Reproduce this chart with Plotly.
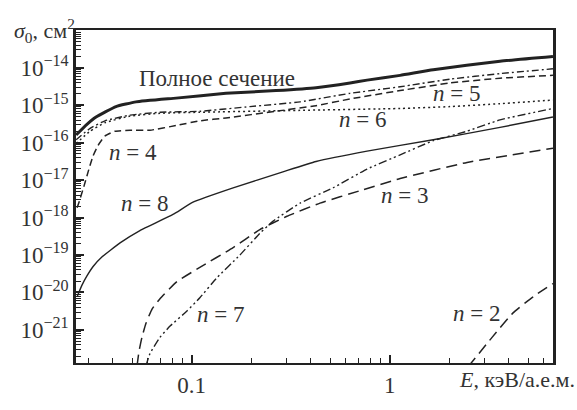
import plotly.graph_objects as go

# ---------------- data (E in keV/amu, sigma in cm^2) ----------------
E_total = [0.0261, 0.0295, 0.0329, 0.0415, 0.0524, 0.0834, 0.149, 0.267, 0.425, 0.631, 0.769, 1.13, 1.66, 3.61, 6.68]
S_total = [1.61e-16, 3.05e-16, 4.85e-16, 9.2e-16, 1.23e-15, 1.55e-15, 2.08e-15, 2.47e-15, 2.95e-15, 3.94e-15, 4.69e-15, 6.28e-15, 8.9e-15, 1.50e-14, 2.01e-14]

E_n5 = [0.0261, 0.0307, 0.0365, 0.0489, 0.0692, 0.110, 0.197, 0.353, 0.631, 1.13, 2.02, 3.61, 6.68]
S_n5 = [1.20e-16, 2.41e-16, 3.84e-16, 5.45e-16, 6.5e-16, 6.9e-16, 9.2e-16, 1.23e-15, 2.08e-15, 3.12e-15, 4.98e-15, 7.0e-15, 9.4e-15]

E_n6 = [0.0261, 0.0307, 0.0365, 0.0489, 0.0692, 0.110, 0.353, 1.13, 2.02, 3.61, 6.68]
S_n6 = [9.5e-17, 2.03e-16, 3.42e-16, 5.14e-16, 6.1e-16, 6.5e-16, 7.3e-16, 8.2e-16, 9.2e-16, 1.10e-15, 1.38e-15]

E_n4 = [0.0264, 0.0270, 0.0286, 0.0300, 0.0318, 0.0337, 0.0365, 0.0410, 0.0489, 0.0616, 0.0834, 0.110, 0.149, 0.267, 0.425, 0.631, 1.13, 2.02, 3.61, 6.68]
S_n4 = [1.82e-18, 2.58e-18, 6.9e-18, 1.66e-17, 4.47e-17, 8.5e-17, 1.51e-16, 2.03e-16, 2.15e-16, 2.15e-16, 2.87e-16, 3.84e-16, 4.58e-16, 6.9e-16, 9.75e-16, 1.47e-15, 2.47e-15, 3.94e-15, 5.27e-15, 6.28e-15]

E_n8 = [0.0264, 0.0279, 0.0296, 0.0318, 0.0352, 0.0435, 0.0548, 0.0805, 0.1016, 0.162, 0.289, 0.425, 0.769, 1.66, 3.61, 6.68]
S_n8 = [7.65e-21, 1.54e-20, 2.76e-20, 4.93e-20, 8.8e-20, 2.11e-19, 4.50e-19, 1.21e-18, 2.58e-18, 6.2e-18, 1.66e-17, 3.15e-17, 5.97e-17, 1.20e-16, 2.56e-16, 4.85e-16]

E_n7 = [0.0588, 0.0616, 0.0692, 0.0778, 0.0948, 0.110, 0.134, 0.175, 0.221, 0.258, 0.353, 0.517, 0.769, 1.13, 1.66, 2.46, 3.61, 6.68]
S_n7 = [1.10e-22, 2.33e-22, 6.3e-22, 1.26e-21, 3.2e-21, 7.2e-21, 2.45e-20, 9.9e-20, 3.78e-19, 8.05e-19, 2.43e-18, 6.2e-18, 1.98e-17, 4.73e-17, 1.13e-16, 2.03e-16, 4.07e-16, 8.2e-16]

E_n3 = [0.0530, 0.0542, 0.0561, 0.0588, 0.0631, 0.0692, 0.0843, 0.110, 0.162, 0.221, 0.303, 0.445, 0.708, 1.13, 2.46, 6.68]
S_n3 = [1.10e-22, 2.62e-22, 6.3e-22, 1.50e-21, 3.6e-21, 6.8e-21, 1.95e-20, 4.66e-20, 1.58e-19, 4.77e-19, 1.08e-18, 2.43e-18, 5.2e-18, 1.10e-17, 2.97e-17, 7.1e-17]

E_n2 = [2.49, 3.29, 4.20, 5.30, 6.68]
S_n2 = [1.03e-22, 6.3e-22, 2.85e-21, 7.65e-21, 1.73e-20]

x_ticks = [0.1, 1]
x_ticktext = ["0.1", "1"]
y_exps = [-21, -20, -19, -18, -17, -16, -15, -14]

# ---------------- figure ----------------
W, H = 577, 410
ML, MR, MT, MB = 76, 24, 30, 28
PW, PH = W - ML - MR, H - MT - MB
LC = "#222222"
TC = "#333333"
FONT = "Liberation Serif"
FS = 23

def px(xp):
    return (xp - ML) / PW

def py(yp):
    return (H - MB - yp) / PH

fig = go.Figure()

def add(E, S, width, dash):
    fig.add_trace(go.Scatter(x=E, y=S, mode="lines",
                             line=dict(color=LC, width=width, dash=dash, shape="spline", smoothing=0.4),
                             showlegend=False, hoverinfo="skip"))

add(E_n2, S_n2, 1.5, "11px,6px")
add(E_n3, S_n3, 1.5, "11px,6px")
add(E_n7, S_n7, 1.4, "8px,3px,2px,3px,2px,3px")
add(E_n8, S_n8, 1.4, "solid")
add(E_n6, S_n6, 1.5, "2px,3px")
add(E_n4, S_n4, 1.5, "7px,4px")
add(E_n5, S_n5, 1.4, "7px,3px,2px,3px")
add(E_total, S_total, 3, "solid")

x_minor = [m * 10.0 ** d for d in (-2, -1, 0) for m in range(2, 10)]
y_minor = [m * 10.0 ** d for d in range(-23, -12) for m in range(2, 10)]

fig.update_xaxes(type="log", range=[-1.584, 0.825],
                 tickmode="array", tickvals=x_ticks, ticktext=x_ticktext,
                 ticks="inside", ticklen=8, tickwidth=1.5, tickcolor=LC,
                 minor=dict(tickmode="array", tickvals=x_minor, ticks="inside", ticklen=5, tickwidth=1.2, tickcolor=LC),
                 showline=True, linewidth=2, linecolor=LC, mirror=True,
                 showgrid=False, zeroline=False,
                 tickfont=dict(family=FONT, size=FS, color=TC))

fig.update_yaxes(type="log", range=[-21.885, -12.99],
                 tickmode="array", tickvals=[10.0 ** e for e in y_exps],
                 ticktext=["10<sup>\u2212%d</sup>" % (-e) for e in y_exps],
                 ticks="inside", ticklen=8, tickwidth=2, tickcolor=LC,
                 minor=dict(tickmode="array", tickvals=y_minor, ticks="inside", ticklen=5, tickwidth=1.2, tickcolor=LC),
                 showline=True, linewidth=2.5, linecolor=LC, mirror=True,
                 showgrid=False, zeroline=False,
                 tickfont=dict(family=FONT, size=FS, color=TC))

labels = [
    ("Полное сечение", 217, 81),
    ("<i>n</i> = 5", 456, 97),
    ("<i>n</i> = 6", 362, 125),
    ("<i>n</i> = 4", 133, 160),
    ("<i>n</i> = 8", 144, 213),
    ("<i>n</i> = 3", 404, 205),
    ("<i>n</i> = 7", 220, 331),
    ("<i>n</i> = 2", 476, 330),
]
for txt, xp, yp in labels:
    fig.add_annotation(text=txt, xref="paper", yref="paper", x=px(xp), y=py(yp),
                       xanchor="center", yanchor="middle", showarrow=False,
                       font=dict(family=FONT, size=FS, color=TC))

fig.add_annotation(text="<i>σ</i><sub>0</sub>, см<sup>2</sup>", xref="paper", yref="paper",
                   x=px(12), y=py(31), xanchor="left", yanchor="middle", showarrow=False,
                   font=dict(family=FONT, size=22, color=TC))
fig.add_annotation(text="<i>E</i>, кэВ/а.е.м.", xref="paper", yref="paper",
                   x=px(577), y=py(399), xanchor="right", yanchor="middle", showarrow=False,
                   font=dict(family=FONT, size=22, color=TC))

fig.update_layout(width=W, height=H, autosize=False,
                  margin=dict(l=ML, r=MR, t=MT, b=MB),
                  paper_bgcolor="white", plot_bgcolor="white")

fig.write_html("out.html")
